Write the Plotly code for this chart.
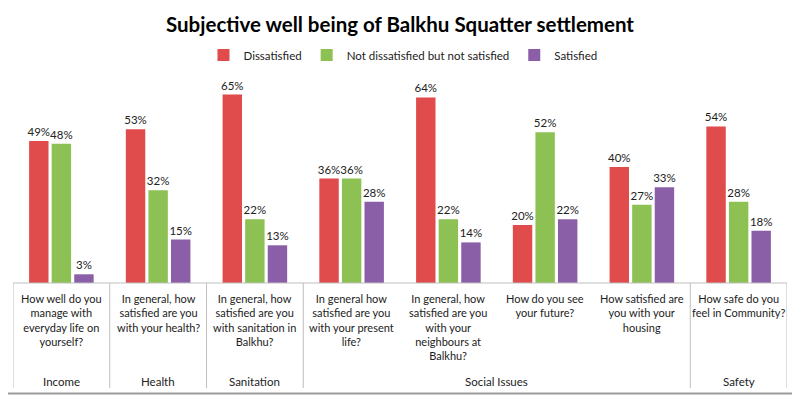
import plotly.graph_objects as go

questions = [
    "How well do you<br>manage with<br>everyday life on<br>yourself?",
    "In general, how<br>satisfied are you<br>with your health?",
    "In general, how<br>satisfied are you<br>with sanitation in<br>Balkhu?",
    "In general how<br>satisfied are you<br>with your present<br>life?",
    "In general, how<br>satisfied are you<br>with your<br>neighbours at<br>Balkhu?",
    "How do you see<br>your future?",
    "How satisfied are<br>you with your<br>housing",
    "How safe do you<br>feel in Community?",
]
groups = ["Income", "Health", "Sanitation", "Social Issues", "Safety"]
group_spans = [(0, 0), (1, 1), (2, 2), (3, 6), (7, 7)]
series_names = ["Dissatisfied", "Not dissatisfied but not satisfied", "Satisfied"]
dissatisfied = [49, 53, 65, 36, 64, 20, 40, 54]
neutral = [48, 32, 22, 36, 22, 52, 27, 28]
satisfied = [3, 15, 13, 28, 14, 22, 33, 18]
colors = ["#E04B4B", "#8DC153", "#8B5FA8"]

# page body has an 8px margin: figure sits at (8, 8) in the 800x395 window
OFF = 8
W, H = 800 - OFF, 395 - OFF
L, R, T, B = 13, 787, 80, 283          # plot area in window pixels
pw, ph = R - L, B - T

def py(p):
    return (B - p) / ph

def px(p):
    return (p - L) / pw

xs = list(range(len(questions)))
fig = go.Figure()
for name, vals, c in zip(series_names, [dissatisfied, neutral, satisfied], colors):
    fig.add_trace(go.Bar(
        x=xs, y=vals, name=name, marker=dict(color=c, line=dict(width=0)),
        text=[f"{v}%" for v in vals], textposition="outside", constraintext="none",
        textfont=dict(family="Lato", size=11.5, color="#222"),
        cliponaxis=False,
    ))

shapes = []
shapes.append(dict(type="line", xref="paper", yref="paper", x0=0, x1=1, y0=0, y1=0,
                   line=dict(color="#BFBFBF", width=1)))
bounds = [group_spans[0][0] - 0.5] + [e + 0.5 for s, e in group_spans]
for b in bounds:
    shapes.append(dict(type="line", xref="x", yref="paper", x0=b, x1=b, y0=0, y1=py(388),
                       line=dict(color="#BFBFBF", width=1)))
# visible parts of the outer frame (bottom and right)
shapes.append(dict(type="line", xref="paper", yref="paper", x0=px(OFF), x1=px(800),
                   y0=py(393.5), y1=py(393.5), line=dict(color="#9A9A9A", width=2)))
shapes.append(dict(type="line", xref="paper", yref="paper", x0=px(797), x1=px(797),
                   y0=py(OFF), y1=py(394), line=dict(color="#D8D8D8", width=1)))

annotations = []
for i, q in enumerate(questions):
    annotations.append(dict(x=i, xref="x", y=py(290), yref="paper", text=q, showarrow=False,
                            yanchor="top", xanchor="center",
                            font=dict(family="Lato", size=11, color="#222")))
for g, (s, e) in zip(groups, group_spans):
    annotations.append(dict(x=(s + e) / 2, xref="x", y=py(381), yref="paper", text=g,
                            showarrow=False, yanchor="middle", xanchor="center",
                            font=dict(family="Lato", size=11.5, color="#222")))

fig.update_layout(
    width=W, height=H,
    margin=dict(l=L - OFF, r=800 - R, t=T - OFF, b=395 - B),
    paper_bgcolor="white", plot_bgcolor="white",
    title=dict(text="<b>Subjective well being of Balkhu Squatter settlement</b>",
               x=px(400), xref="paper", xanchor="center", y=1 - (25 - OFF) / H, yanchor="middle",
               font=dict(family="Lato", size=20.5, color="#000")),
    legend=dict(orientation="h", x=px(403), xanchor="center", y=py(55), yanchor="middle",
                font=dict(family="Lato", size=11.5, color="#222"), itemwidth=30,
                traceorder="normal"),
    barmode="group", bargap=0.3, bargroupgap=0.14,
    xaxis=dict(range=[-0.5, 7.5], showticklabels=False, showgrid=False, zeroline=False,
               showline=False, ticks=""),
    yaxis=dict(range=[0, 70], visible=False, showgrid=False, zeroline=False),
    shapes=shapes, annotations=annotations, showlegend=True,
)

fig.write_html("out.html")
